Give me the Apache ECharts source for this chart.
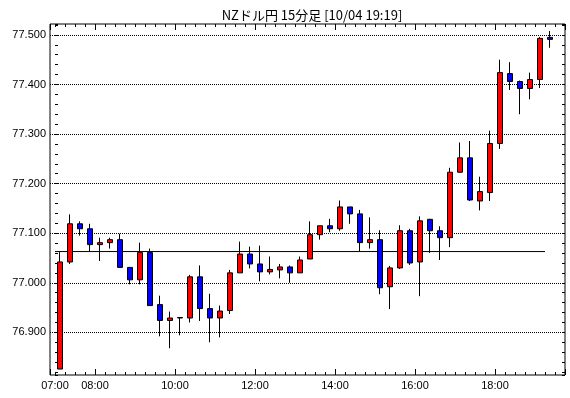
<!DOCTYPE html>
<html>
<head>
<meta charset="utf-8">
<title>NZドル円 15分足</title>
<script src="https://cdn.jsdelivr.net/npm/echarts@6/dist/echarts.min.js"></script>
<style>
  html, body { margin: 0; padding: 0; background: #fff; }
  #chart { width: 570px; height: 398px; }
</style>
</head>
<body>
<div id="chart"></div>
<script>
// 15分足 (07:00 - 19:15)
const times = ['07:00', '07:15', '07:30', '07:45', '08:00', '08:15', '08:30', '08:45',
  '09:00', '09:15', '09:30', '09:45', '10:00', '10:15', '10:30', '10:45',
  '11:00', '11:15', '11:30', '11:45', '12:00', '12:15', '12:30', '12:45',
  '13:00', '13:15', '13:30', '13:45', '14:00', '14:15', '14:30', '14:45',
  '15:00', '15:15', '15:30', '15:45', '16:00', '16:15', '16:30', '16:45',
  '17:00', '17:15', '17:30', '17:45', '18:00', '18:15', '18:30', '18:45',
  '19:00', '19:15', ''];

const opens = [76.826, 77.042, 77.119, 77.109, 77.077, 77.081, 77.087, 77.031,
  77.006, 77.061, 76.956, 76.924, 76.929, 76.929, 77.012, 76.948,
  76.929, 76.944, 77.020, 77.058, 77.038, 77.022, 77.026, 77.032,
  77.020, 77.048, 77.097, 77.115, 77.109, 77.153, 77.139, 77.081,
  77.087, 76.992, 77.030, 77.105, 77.042, 77.128, 77.105, 77.091,
  77.223, 77.252, 77.165, 77.182, 77.281, 77.422, 77.406, 77.392,
  77.410, 77.495];
const closes = [77.042, 77.119, 77.109, 77.077, 77.081, 77.087, 77.031, 77.006,
  77.061, 76.954, 76.924, 76.929, 76.930, 77.012, 76.948, 76.929,
  76.943, 77.020, 77.058, 77.038, 77.022, 77.027, 77.032, 77.020,
  77.046, 77.097, 77.115, 77.109, 77.153, 77.139, 77.081, 77.087,
  76.990, 77.030, 77.105, 77.040, 77.125, 77.105, 77.091, 77.223,
  77.252, 77.167, 77.184, 77.281, 77.424, 77.406, 77.392, 77.410,
  77.493, 77.491];
const lows = [76.826, 77.038, 77.095, 77.063, 77.044, 77.069, 77.031, 76.997,
  76.997, 76.954, 76.892, 76.868, 76.894, 76.920, 76.923, 76.880,
  76.890, 76.937, 77.020, 77.029, 77.003, 77.017, 77.009, 77.000,
  77.020, 77.048, 77.087, 77.102, 77.105, 77.119, 77.064, 77.069,
  76.977, 76.947, 77.028, 77.036, 76.973, 77.060, 77.046, 77.072,
  77.222, 77.165, 77.146, 77.165, 77.270, 77.389, 77.340, 77.370,
  77.393, 77.474];
const highs = [77.062, 77.138, 77.124, 77.119, 77.091, 77.091, 77.099, 77.031,
  77.081, 77.069, 76.974, 76.942, 76.931, 77.016, 77.035, 76.978,
  76.954, 77.026, 77.083, 77.073, 77.075, 77.053, 77.038, 77.035,
  77.053, 77.124, 77.115, 77.129, 77.166, 77.153, 77.147, 77.132,
  77.106, 77.034, 77.116, 77.109, 77.134, 77.129, 77.114, 77.232,
  77.283, 77.286, 77.214, 77.307, 77.450, 77.445, 77.408, 77.424,
  77.496, 77.508];

// 基準線
const baseLevel = 77.063;
const baseFrom = 7;      // 07:00
const baseTo = 19.25;    // 19:15

const yMin = 76.814;
const yMax = 77.522;

const candles = opens.map((o, i) => [o, closes[i], lows[i], highs[i]]);

const FONT = 'Liberation Sans';
const pad2 = n => (n < 10 ? '0' : '') + n;

const chart = echarts.init(document.getElementById('chart'));
const option = {
  animation: false,
  backgroundColor: '#fff',
  title: {
    text: 'NZドル円 15分足 [10/04 19:19]',
    left: 307,
    top: 4,
    textAlign: 'center',
    textStyle: { fontFamily: 'Noto Sans CJK JP', fontSize: 13, fontWeight: 'normal', color: '#000' }
  },
  grid: [
    // frame
    { left: 50, top: 24, width: 515, height: 351, show: true, borderColor: '#000', borderWidth: 1 },
    // candles
    { left: 55, top: 24, width: 510, height: 351 }
  ],
  xAxis: [
    { // 15分 ticks (bottom)
      type: 'value', gridIndex: 0, position: 'bottom', min: -0.5, max: 51,
      minInterval: 1, maxInterval: 1,
      axisLine: { show: false }, splitLine: { show: false },
      axisTick: { inside: true, length: 3, lineStyle: { color: '#000' } },
      axisLabel: {
        margin: 5, color: '#000', fontFamily: FONT, fontSize: 11,
        formatter: v => (v === 0 ? times[0] : '')
      }
    },
    { // 2時間 ticks (bottom)
      type: 'value', gridIndex: 0, position: 'bottom', min: 6.875, max: 19.75,
      minInterval: 2, maxInterval: 2,
      axisLine: { show: false }, splitLine: { show: false },
      axisTick: { inside: true, length: 6, lineStyle: { color: '#000' } },
      axisLabel: {
        margin: 5, color: '#000', fontFamily: FONT, fontSize: 11,
        formatter: v => (Number.isInteger(v) ? pad2(v) + ':00' : '')
      }
    },
    { // top
      type: 'value', gridIndex: 0, position: 'top', min: -0.5, max: 51,
      minInterval: 1, maxInterval: 1,
      axisLine: { show: false }, splitLine: { show: false }, axisLabel: { show: false },
      axisTick: { inside: true, length: 3, lineStyle: { color: '#000' } }
    },
    {
      type: 'value', gridIndex: 0, position: 'top', min: 6.875, max: 19.75,
      minInterval: 2, maxInterval: 2,
      axisLine: { show: false }, splitLine: { show: false }, axisLabel: { show: false },
      axisTick: { inside: true, length: 6, lineStyle: { color: '#000' } }
    },
    { // candles
      type: 'category', gridIndex: 1, data: times, show: false
    }
  ],
  yAxis: [
    { // labels + grid lines
      type: 'value', gridIndex: 0, position: 'left', min: yMin, max: yMax,
      minInterval: 0.1, maxInterval: 0.1,
      axisLine: { show: false }, axisTick: { show: false },
      splitLine: { show: true, showMinLine: false, showMaxLine: false, lineStyle: { color: '#000', type: 'dotted', width: 1 } },
      axisLabel: {
        margin: 4, color: '#000', fontFamily: FONT, fontSize: 11,
        formatter: v => (Math.abs(v * 10 - Math.round(v * 10)) < 1e-6 ? v.toFixed(3) : '')
      }
    },
    {
      type: 'value', gridIndex: 0, position: 'left', min: yMin, max: yMax,
      minInterval: 0.02, maxInterval: 0.02,
      axisLine: { show: false }, splitLine: { show: false }, axisLabel: { show: false },
      axisTick: { inside: true, length: 3, lineStyle: { color: '#000' } }
    },
    {
      type: 'value', gridIndex: 0, position: 'right', min: yMin, max: yMax,
      minInterval: 0.02, maxInterval: 0.02,
      axisLine: { show: false }, splitLine: { show: false }, axisLabel: { show: false },
      axisTick: { inside: true, length: 3, lineStyle: { color: '#000' } }
    },
    {
      type: 'value', gridIndex: 1, min: yMin, max: yMax, show: false
    }
  ],
  series: [
    {
      type: 'line',
      xAxisIndex: 1,
      yAxisIndex: 0,
      data: [[baseFrom, baseLevel], [baseTo, baseLevel]],
      symbol: 'none',
      silent: true,
      z: 1,
      lineStyle: { color: '#000', width: 1 }
    },
    {
      type: 'candlestick',
      xAxisIndex: 4,
      yAxisIndex: 3,
      data: candles,
      barWidth: 6,
      z: 3,
      itemStyle: {
        color: '#ff0000',
        color0: '#0000ff',
        borderColor: '#000',
        borderColor0: '#000',
        borderWidth: 1
      }
    }
  ]
};
chart.setOption(option);
</script>
</body>
</html>
